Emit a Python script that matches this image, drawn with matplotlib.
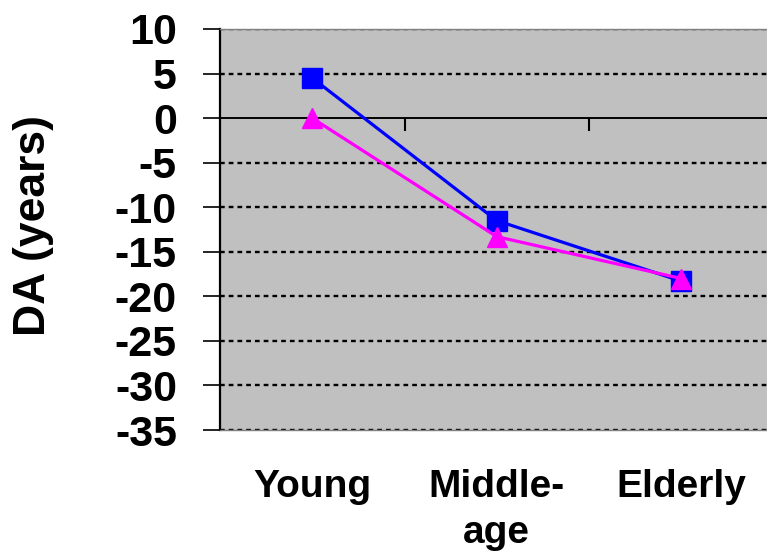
import numpy as np
import matplotlib
matplotlib.use("Agg")
import matplotlib.pyplot as plt
from matplotlib.transforms import blended_transform_factory

# DA by age group for the two series
groups = ["Young", "Middle-\nage", "Elderly"]
da_squares = [4.5, -11.5, -18.3]
da_triangles = [0.0, -13.3, -18.0]
y_ticks = [10, 5, 0, -5, -10, -15, -20, -25, -30, -35]

plt.rcParams["font.family"] = ["Liberation Sans", "DejaVu Sans"]
plt.rcParams["font.weight"] = "bold"

fig = plt.figure(figsize=(7.67, 5.52), dpi=100)
ax = fig.add_axes([220 / 767, 122 / 552, 553.5 / 767, 401 / 552])
ax.set_facecolor("#c0c0c0")

x = np.arange(len(groups))
ax.set_xlim(-0.5, len(groups) - 0.5)
ax.set_ylim(-35, 10)

# dotted grid, solid zero line
for yv in y_ticks:
    if yv == 0:
        continue
    ax.axhline(yv, color="black", lw=1.7, ls=(0, (2.0, 1.7)), zorder=1)
ax.axhline(0, color="black", lw=1.4, zorder=2)

# category separators hanging from the zero line
for xs in x[:-1] + 0.5:
    ax.plot([xs, xs], [0, -1.5], color="black", lw=1.5, zorder=2,
            solid_capstyle="butt")

ax.plot(x, da_squares, color="#0000ff", lw=2.3, marker="s", ms=14,
        zorder=3)
ax.plot(x, da_triangles, color="#ff00ff", lw=2.3, marker="^", ms=15,
        zorder=4)

ax.set_yticks(y_ticks)
ax.set_yticklabels([str(v) for v in y_ticks], fontsize=31,
                   fontweight="bold")
ax.tick_params(axis="y", length=12, width=1.2, pad=19, direction="out")
ax.set_xticks([])

ax.spines["right"].set_visible(False)
ax.spines["left"].set_linewidth(1.6)
for side in ["top", "bottom"]:
    ax.spines[side].set_color("#808080")
    ax.spines[side].set_linewidth(1.0)

# category labels below the plot area, one text per line
trans = blended_transform_factory(ax.transData, fig.transFigure)
line_step = 46 / 552
for xi, name in zip(x, groups):
    for k, line in enumerate(name.split("\n")):
        ax.text(xi, 55 / 552 - k * line_step, line, transform=trans,
                ha="center", va="baseline", fontsize=28, fontweight="bold",
                clip_on=False)

fig.text(34 / 767, 1 - 226 / 552, "DA (years)", rotation=90,
         ha="center", va="center", fontsize=32, fontweight="bold")

fig.savefig("out.png", dpi=100)
